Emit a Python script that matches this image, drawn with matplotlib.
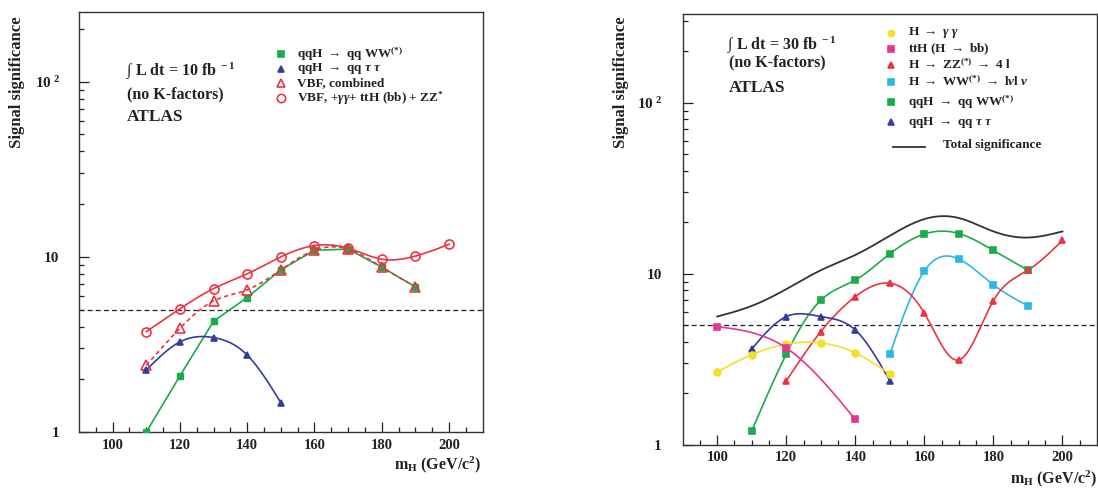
import numpy as np
import matplotlib
matplotlib.use("Agg")
import matplotlib.pyplot as plt
from matplotlib.lines import Line2D
from matplotlib.ticker import FixedLocator, FixedFormatter, NullFormatter

plt.rcParams['font.family'] = ['Liberation Serif', 'DejaVu Serif']
plt.rcParams['font.weight'] = 'bold'
plt.rcParams['mathtext.fontset'] = 'custom'
plt.rcParams['mathtext.rm'] = 'Liberation Serif:bold'
plt.rcParams['mathtext.it'] = 'Liberation Serif:bold:italic'
plt.rcParams['mathtext.bf'] = 'Liberation Serif:bold'

# ---------------- data: left panel (10 fb^-1) ----------------
L_mh_ww = [110, 120, 130, 140, 150, 160, 170, 180, 190]
L_ww = [1.0, 2.09, 4.29, 5.86, 8.43, 10.9, 11.07, 8.73, 6.74]
L_mh_tautau = [110, 120, 130, 140, 150]
L_tautau = [2.26, 3.27, 3.46, 2.75, 1.47]
L_mh_vbf = [110, 120, 130, 140, 150, 160, 170, 180, 190]
L_vbf = [2.40, 3.91, 5.6, 6.48, 8.43, 10.9, 11.07, 8.73, 6.74]
L_mh_all = [110, 120, 130, 140, 150, 160, 170, 180, 190, 200]
L_all = [3.74, 5.05, 6.59, 8.0, 10.0, 11.6, 11.2, 9.7, 10.1, 11.8]

# ---------------- data: right panel (30 fb^-1) ----------------
R_mh_gg = [100, 110, 120, 130, 140, 150]
R_gg = [2.67, 3.37, 3.88, 3.95, 3.45, 2.60]
R_mh_tth = [100, 120, 140]
R_tth = [4.92, 3.69, 1.41]
R_mh_zz = [120, 130, 140, 150, 160, 170, 180, 190, 200]
R_zz = [2.37, 4.6, 7.36, 8.82, 5.89, 3.14, 6.98, 10.5, 15.7]
R_mh_wwlnln = [150, 160, 170, 180, 190]
R_wwlnln = [3.39, 10.4, 12.2, 8.63, 6.5]
R_mh_qqww = [110, 120, 130, 140, 150, 160, 170, 180, 190]
R_qqww = [1.21, 3.4, 7.02, 9.2, 13.1, 17.1, 17.2, 13.7, 10.5]
R_mh_tautau = [110, 120, 130, 140, 150]
R_tautau = [3.64, 5.63, 5.63, 4.7, 2.37]
R_mh_total = [100, 110, 120, 130, 140, 150, 160, 170, 180, 190, 200]
R_total = [5.63, 6.5, 8.14, 10.5, 12.9, 16.7, 20.9, 21.2, 17.7, 16.3, 17.7]

x_ticks = [100, 120, 140, 160, 180, 200]
y_tick_labels = ['1', '10', '10$^{\\ 2}$']
discovery = 5

GREEN = '#1bab4b'
BLUE = '#333d9b'
RED = '#ec3440'
YELLOW = '#f2e02c'
MAGENTA = '#e8358f'
CYAN = '#2cb7ea'
BLACK = '#333333'

W, H = 1098, 488
fig = plt.figure(figsize=(W / 100, H / 100), dpi=100)


def P(x, y):
    return x / W, 1 - y / H


def spline(x, y, n=300):
    """Natural cubic spline in (x, log10 y) for drawing smooth curves."""
    x = np.asarray(x, float)
    v = np.log10(np.asarray(y, float))
    k = len(x)
    h = np.diff(x)
    A = np.zeros((k, k))
    b = np.zeros(k)
    A[0, 0] = 1
    A[-1, -1] = 1
    for i in range(1, k - 1):
        A[i, i - 1] = h[i - 1]
        A[i, i] = 2 * (h[i - 1] + h[i])
        A[i, i + 1] = h[i]
        b[i] = 3 * ((v[i + 1] - v[i]) / h[i] - (v[i] - v[i - 1]) / h[i - 1])
    c = np.linalg.solve(A, b)
    bb = (v[1:] - v[:-1]) / h - h * (2 * c[:-1] + c[1:]) / 3
    d = (c[1:] - c[:-1]) / (3 * h)
    xs = np.linspace(x[0], x[-1], n)
    idx = np.clip(np.searchsorted(x, xs, side='right') - 1, 0, k - 2)
    t = xs - x[idx]
    vs = v[idx] + bb[idx] * t + c[idx] * t ** 2 + d[idx] * t ** 3
    return xs, 10 ** vs


def setup_axes(ax, ytop, xpad, ypad):
    ax.set_yscale('log')
    ax.set_xlim(90, 210)
    ax.set_ylim(1, ytop)
    ax.xaxis.set_major_locator(FixedLocator(x_ticks))
    ax.xaxis.set_major_formatter(FixedFormatter([str(v) for v in x_ticks]))
    ax.xaxis.set_minor_locator(FixedLocator(list(range(95, 210, 5))))
    ax.yaxis.set_major_locator(FixedLocator([1, 10, 100]))
    ax.yaxis.set_major_formatter(FixedFormatter(y_tick_labels))
    minors = [m * 10 ** e for e in range(0, 3) for m in range(2, 10)]
    ax.yaxis.set_minor_locator(FixedLocator(minors))
    ax.yaxis.set_minor_formatter(NullFormatter())
    ax.tick_params(which='both', direction='in', top=False, right=False,
                   width=0.9, colors='#222222')
    ax.tick_params(which='major', length=7)
    ax.tick_params(which='minor', length=3.5)
    ax.tick_params(axis='x', which='major', pad=xpad, labelsize=10.5)
    ax.tick_params(axis='y', which='major', pad=ypad, labelsize=11)
    for s in ax.spines.values():
        s.set_linewidth(1.0)
        s.set_color('#333333')
    ax.axhline(discovery, color='#222222', lw=0.9, ls=(0, (4, 2.5)))


def smooth(ax, x, y, color, marker, ms, mfc=None, ls='-', lw=1.2, z=3):
    xs, ys = spline(x, y)
    ax.plot(xs, ys, color=color, ls=ls, lw=lw, zorder=z)
    ax.plot(x, y, ls='none', marker=marker, ms=ms, color=color,
            mfc=color if mfc is None else mfc, mec=color, mew=1.2, zorder=z + 1)


def fig_marker(x, y, marker, color, ms, mfc=None):
    fx, fy = P(x, y)
    fig.add_artist(Line2D([fx], [fy], marker=marker, ms=ms, color=color,
                          mfc=color if mfc is None else mfc, mec=color,
                          mew=1.2, ls='none', transform=fig.transFigure))


def fig_text(x, y, s, size, ha='left', va='center', **kw):
    fx, fy = P(x, y)
    fig.text(fx, fy, s, fontsize=size, ha=ha, va=va, fontweight='bold',
             color='#222222', **kw)


# ---------------- left panel ----------------
x0, y0 = P(79, 432)
x1, y1 = P(482.7, 12)
axL = fig.add_axes([x0, y0, x1 - x0, y1 - y0])
setup_axes(axL, 250, 5, 14)

axL.plot(L_mh_ww, L_ww, color=GREEN, lw=1.2, zorder=3)
axL.plot(L_mh_ww, L_ww, ls='none', marker='s', ms=5, color=GREEN, zorder=4)
smooth(axL, L_mh_vbf, L_vbf, RED, '^', 6.5, mfc='none', ls=(0, (2.5, 2)))
smooth(axL, L_mh_all, L_all, RED, 'o', 6.5, mfc='none')
smooth(axL, L_mh_tautau, L_tautau, BLUE, '^', 5)

fig_text(126, 71, r'$\int$ L dt = 10 fb$^{\ -1}$', 11.5)
fig_text(127, 94, '(no K-factors)', 11.5)
fig_text(127, 117, 'ATLAS', 12.5)

left_legend = [
    ('s', GREEN, None, 5, r'qqH $\rightarrow$ qq WW$^{(*)}$', 54),
    ('^', BLUE, None, 5, r'qqH $\rightarrow$ qq $\tau$ $\tau$', 69),
    ('^', RED, 'none', 6, 'VBF, combined', 83),
    ('o', RED, 'none', 6, r'VBF, +$\gamma\gamma$+ ttH (bb) + ZZ$^{*}$', 98),
]
for mk, col, mfc, ms, lab, yy in left_legend:
    fig_marker(281, yy, mk, col, ms, mfc)
    fig_text(297, yy, lab, 9.5)

fig_text(17, 16, 'Signal significance', 12, ha='center', va='top', rotation=90)
fig_text(481, 465, r'm$_{\rm H}$ (GeV/c$^{2}$)', 11.5, ha='right')

# ---------------- right panel ----------------
x0, y0 = P(682.7, 445)
x1, y1 = P(1097, 14)
axR = fig.add_axes([x0, y0, x1 - x0, y1 - y0])
setup_axes(axR, 330, 4, 15)

smooth(axR, R_mh_total, R_total, BLACK, None, 0, lw=1.3)
smooth(axR, R_mh_qqww, R_qqww, GREEN, 's', 5)
smooth(axR, R_mh_wwlnln, R_wwlnln, CYAN, 's', 5)
smooth(axR, R_mh_zz, R_zz, RED, '^', 5)
smooth(axR, R_mh_tautau, R_tautau, BLUE, '^', 5)
smooth(axR, R_mh_gg, R_gg, YELLOW, 'o', 5)
smooth(axR, R_mh_tth, R_tth, MAGENTA, 's', 5)

fig_text(727, 45, r'$\int$ L dt = 30 fb$^{\ -1}$', 11.5)
fig_text(729, 62, '(no K-factors)', 11.5)
fig_text(729, 88, 'ATLAS', 12.5)

right_legend = [
    ('o', YELLOW, 4.5, r'H $\rightarrow$ $\gamma$ $\gamma$', 33),
    ('s', MAGENTA, 4.5, r'ttH (H $\rightarrow$ bb)', 49),
    ('^', RED, 4.5, r'H $\rightarrow$ ZZ$^{(*)}$ $\rightarrow$ 4 l', 65),
    ('s', CYAN, 4.5, r'H $\rightarrow$ WW$^{(*)}$ $\rightarrow$ l$\nu$l $\nu$', 82),
    ('s', GREEN, 4.5, r'qqH $\rightarrow$ qq WW$^{(*)}$', 102),
    ('^', BLUE, 4.5, r'qqH $\rightarrow$ qq $\tau$ $\tau$', 122),
]
for mk, col, ms, lab, yy in right_legend:
    fig_marker(891, yy, mk, col, ms)
    fig_text(908, yy, lab, 9.5)
fx0, fy0 = P(893, 147)
fx1, _ = P(925, 147)
fig.add_artist(Line2D([fx0, fx1], [fy0, fy0], color=BLACK, lw=1.3,
                      transform=fig.transFigure))
fig_text(943, 145, 'Total significance', 9.5)

fig_text(621, 16, 'Signal significance', 12, ha='center', va='top', rotation=90)
fig_text(1097, 479, r'm$_{\rm H}$ (GeV/c$^{2}$)', 11.5, ha='right')

fig.savefig('out.png', dpi=100)
